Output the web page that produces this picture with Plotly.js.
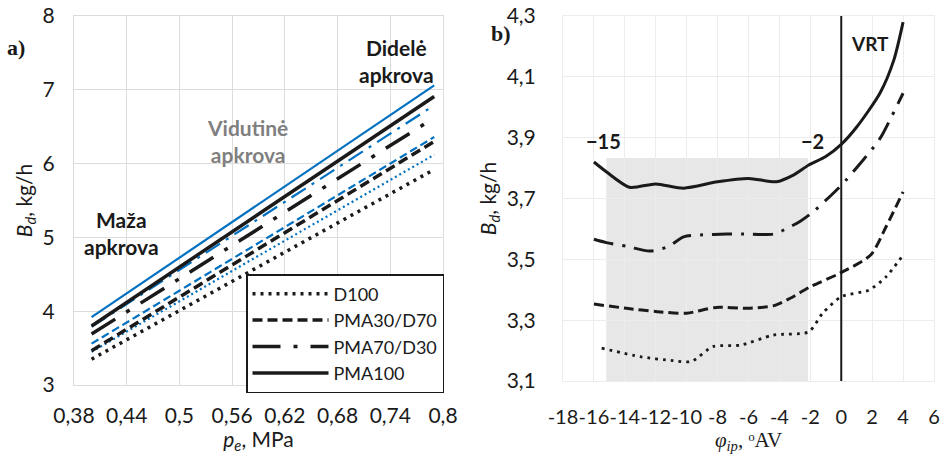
<!DOCTYPE html>
<html>
<head>
<meta charset="utf-8">
<script src="https://cdn.plot.ly/plotly-3.0.1.min.js"></script>
<style>html,body{margin:0;padding:0;background:#fff;}#chart{width:946px;height:454px;}</style>
</head>
<body>
<div id="chart"></div>
<script>
// ---------- Data: panel a) ----------
const seriesNames = ["D100", "PMA30/D70", "PMA70/D30", "PMA100"];
const peX = [0.4, 0.79];
const blackD100 = [3.35, 5.92];
const blackPMA30 = [3.465, 6.30];
const blackPMA70 = [3.69, 6.62];
const blackPMA100 = [3.80, 6.91];
const blueD100 = [3.45, 6.12];
const bluePMA30 = [3.56, 6.36];
const bluePMA70 = [3.79, 6.79];
const bluePMA100 = [3.92, 7.06];
const aXTicks = [0.38, 0.44, 0.5, 0.56, 0.62, 0.68, 0.74, 0.8];
const aXTickText = ["0,38", "0,44", "0,5", "0,56", "0,62", "0,68", "0,74", "0,8"];
const aYTicks = [3, 4, 5, 6, 7, 8];

// ---------- Data: panel b) ----------
const d100X = [-15.5, -13, -10.9, -9.7, -8.3, -6.5, -4.4, -2.1, -1.2, 0, 1.8, 2.9, 4];
const d100Y = [3.208, 3.18, 3.167, 3.164, 3.213, 3.218, 3.251, 3.262, 3.323, 3.377, 3.399, 3.443, 3.514];
const pma30X = [-16, -13.9, -11.9, -10, -8.1, -6.1, -4.4, -3.3, -2, -0.1, 1.9, 2.9, 4];
const pma30Y = [3.353, 3.339, 3.328, 3.323, 3.342, 3.339, 3.347, 3.372, 3.41, 3.454, 3.514, 3.607, 3.722];
const pma70X = [-16, -15.2, -13.8, -12.4, -11.2, -10.2, -9.1, -7.4, -6.3, -4.4, -3.5, -2.6, -1.8, -0.3, 0.3, 2.3, 2.7, 4];
const pma70Y = [3.566, 3.555, 3.542, 3.527, 3.542, 3.574, 3.58, 3.583, 3.583, 3.583, 3.602, 3.627, 3.657, 3.728, 3.76, 3.882, 3.914, 4.046];
const pma100X = [-16, -15.2, -13.7, -12, -10.2, -8, -6, -4.2, -3.1, -2.1, -1, 0, 1, 2.5, 3.4, 4];
const pma100Y = [3.82, 3.788, 3.737, 3.748, 3.734, 3.755, 3.766, 3.755, 3.777, 3.81, 3.838, 3.878, 3.935, 4.046, 4.155, 4.28];
const bXTicks = [-18, -16, -14, -12, -10, -8, -6, -4, -2, 0, 2, 4, 6];
const bXTickText = ["-18", "-16", "-14", "-12", "-10", "-8", "-6", "-4", "-2", "0", "2", "4", "6"];
const bYTicks = [3.1, 3.3, 3.5, 3.7, 3.9, 4.1, 4.3];
const bYTickText = ["3,1", "3,3", "3,5", "3,7", "3,9", "4,1", "4,3"];
const shadeX = [-15.2, -2.15];
const shadeY = [3.1, 3.833];
const vrtX = 0;

const BLUE = "#0070c0";
const INK = "#1a1a1a";
const FONT = "Lato, 'Open Sans', sans-serif";
const SERIF = "'Liberation Serif', 'DejaVu Serif', serif";

const traces = [
  // blue (not in legend)
  {x: peX, y: blueD100, mode: "lines", line: {color: BLUE, width: 2.2, dash: "2px,3px"}, showlegend: false, xaxis: "x", yaxis: "y"},
  {x: peX, y: bluePMA30, mode: "lines", line: {color: BLUE, width: 2.2, dash: "8px,4px"}, showlegend: false, xaxis: "x", yaxis: "y"},
  {x: peX, y: bluePMA70, mode: "lines", line: {color: BLUE, width: 2.2, dash: "17px,7px,3px,7px"}, showlegend: false, xaxis: "x", yaxis: "y"},
  {x: peX, y: bluePMA100, mode: "lines", line: {color: BLUE, width: 2.2}, showlegend: false, xaxis: "x", yaxis: "y"},
  // black (legend)
  {x: peX, y: blackD100, name: seriesNames[0], mode: "lines", line: {color: INK, width: 3.5, dash: "3px,5px"}, xaxis: "x", yaxis: "y"},
  {x: peX, y: blackPMA30, name: seriesNames[1], mode: "lines", line: {color: INK, width: 3.5, dash: "10px,5px"}, xaxis: "x", yaxis: "y"},
  {x: peX, y: blackPMA70, name: seriesNames[2], mode: "lines", line: {color: INK, width: 3.5, dash: "28px,13px,4px,13px"}, xaxis: "x", yaxis: "y"},
  {x: peX, y: blackPMA100, name: seriesNames[3], mode: "lines", line: {color: INK, width: 3.5}, xaxis: "x", yaxis: "y"},
  // panel b
  {x: d100X, y: d100Y, mode: "lines", line: {color: INK, width: 2.8, dash: "2.8px,5px", shape: "spline", smoothing: 0.7}, showlegend: false, xaxis: "x2", yaxis: "y2"},
  {x: pma30X, y: pma30Y, mode: "lines", line: {color: INK, width: 3, dash: "10px,5px", shape: "spline", smoothing: 0.7}, showlegend: false, xaxis: "x2", yaxis: "y2"},
  {x: pma70X, y: pma70Y, mode: "lines", line: {color: INK, width: 3, dash: "20px,9px,3px,9px", shape: "spline", smoothing: 0.7}, showlegend: false, xaxis: "x2", yaxis: "y2"},
  {x: pma100X, y: pma100Y, mode: "lines", line: {color: INK, width: 3, shape: "spline", smoothing: 0.7}, showlegend: false, xaxis: "x2", yaxis: "y2"}
];

const W = 946, H = 454;
const axisCommon = {
  showgrid: true, gridcolor: "#dcdcdc", gridwidth: 1,
  showline: true, linecolor: "#dcdcdc", linewidth: 1, mirror: true,
  zeroline: false, ticks: "", tickangle: 0, tickfont: {family: FONT, size: 21, color: INK}
};

const layout = {
  width: W, height: H,
  margin: {l: 0, r: 0, t: 0, b: 0},
  paper_bgcolor: "#ffffff", plot_bgcolor: "#ffffff",
  font: {family: FONT, color: INK},
  xaxis: Object.assign({}, axisCommon, {
    domain: [74 / W, 443 / W], range: [0.38, 0.8], tickmode: "array",
    tickvals: aXTicks, ticktext: aXTickText, ticklabelstandoff: 12,
    title: {text: "<i>p<sub>e</sub></i>, MPa", font: {family: FONT, size: 21}, standoff: 4}
  }),
  yaxis: Object.assign({}, axisCommon, {
    domain: [1 - 385 / H, 1 - 16 / H], range: [3, 8], tickmode: "array",
    tickvals: aYTicks, ticklabelstandoff: 14,
    title: {text: "<i>B<sub>d</sub></i>, kg/h", font: {family: FONT, size: 21}, standoff: 4}
  }),
  xaxis2: Object.assign({}, axisCommon, {
    anchor: "y2", gridcolor: "#ececec", linecolor: "#ececec",
    tickfont: {family: FONT, size: 20, color: INK},
    domain: [563 / W, 934 / W], range: [-18, 6], tickmode: "array",
    tickvals: bXTicks, ticktext: bXTickText, ticklabelstandoff: 18,
    title: {text: "<i>φ<sub>ip</sub></i>, ᵒAV", font: {family: SERIF, size: 21}, standoff: 8}
  }),
  yaxis2: Object.assign({}, axisCommon, {
    anchor: "x2", gridcolor: "#ececec", linecolor: "#ececec",
    domain: [1 - 381 / H, 1 - 16 / H], range: [3.1, 4.3], tickmode: "array",
    tickvals: bYTicks, ticktext: bYTickText, ticklabelstandoff: 22,
    title: {text: "<i>B<sub>d</sub></i>, kg/h", font: {family: FONT, size: 21}, standoff: 4}
  }),
  showlegend: true,
  legend: {
    x: 444 / W, xanchor: "right", y: 1 - 393 / H, yanchor: "bottom",
    bgcolor: "#ffffff", bordercolor: INK, borderwidth: 1.5,
    font: {family: FONT, size: 18, color: INK}, traceorder: "normal",
    tracegroupgap: 0, itemwidth: 76
  },
  shapes: [
    {type: "rect", xref: "x2", yref: "y2", x0: shadeX[0], x1: shadeX[1], y0: shadeY[0], y1: shadeY[1],
     fillcolor: "#e7e7e7", line: {width: 0}, layer: "below"},
    {type: "line", xref: "x2", yref: "y2", x0: vrtX, x1: vrtX, y0: 3.1, y1: 4.3,
     line: {color: INK, width: 2}}
  ],
  annotations: [
    {xref: "paper", yref: "paper", x: 16 / W, y: 1 - 47 / H, xanchor: "center", yanchor: "middle",
     text: "<b>a)</b>", showarrow: false, font: {family: SERIF, size: 22, color: INK}},
    {xref: "paper", yref: "paper", x: 501 / W, y: 1 - 33 / H, xanchor: "center", yanchor: "middle",
     text: "<b>b)</b>", showarrow: false, font: {family: SERIF, size: 22, color: INK}},
    {xref: "x", yref: "y", x: 0.7476, y: 7.39, xanchor: "center", yanchor: "middle",
     text: "<b>Didelė<br>apkrova</b>", showarrow: false, font: {family: FONT, size: 21, color: INK}},
    {xref: "x", yref: "y", x: 0.578, y: 6.31, xanchor: "center", yanchor: "middle",
     text: "<b>Vidutinė<br>apkrova</b>", showarrow: false, font: {family: FONT, size: 21, color: "#7f7f7f"}},
    {xref: "x", yref: "y", x: 0.4346, y: 5.06, xanchor: "center", yanchor: "middle",
     text: "<b>Maža<br>apkrova</b>", showarrow: false, font: {family: FONT, size: 21, color: INK}},
    {xref: "x2", yref: "y2", x: -15.35, y: 3.889, xanchor: "center", yanchor: "middle",
     text: "<b>−15</b>", showarrow: false, font: {family: FONT, size: 20, color: INK}},
    {xref: "x2", yref: "y2", x: -1.83, y: 3.889, xanchor: "center", yanchor: "middle",
     text: "<b>−2</b>", showarrow: false, font: {family: FONT, size: 20, color: INK}},
    {xref: "x2", yref: "y2", x: 1.86, y: 4.211, xanchor: "center", yanchor: "middle",
     text: "<b>VRT</b>", showarrow: false, font: {family: FONT, size: 19, color: INK}}
  ]
};

Plotly.newPlot("chart", traces, layout, {staticPlot: true, displayModeBar: false});
</script>
</body>
</html>
